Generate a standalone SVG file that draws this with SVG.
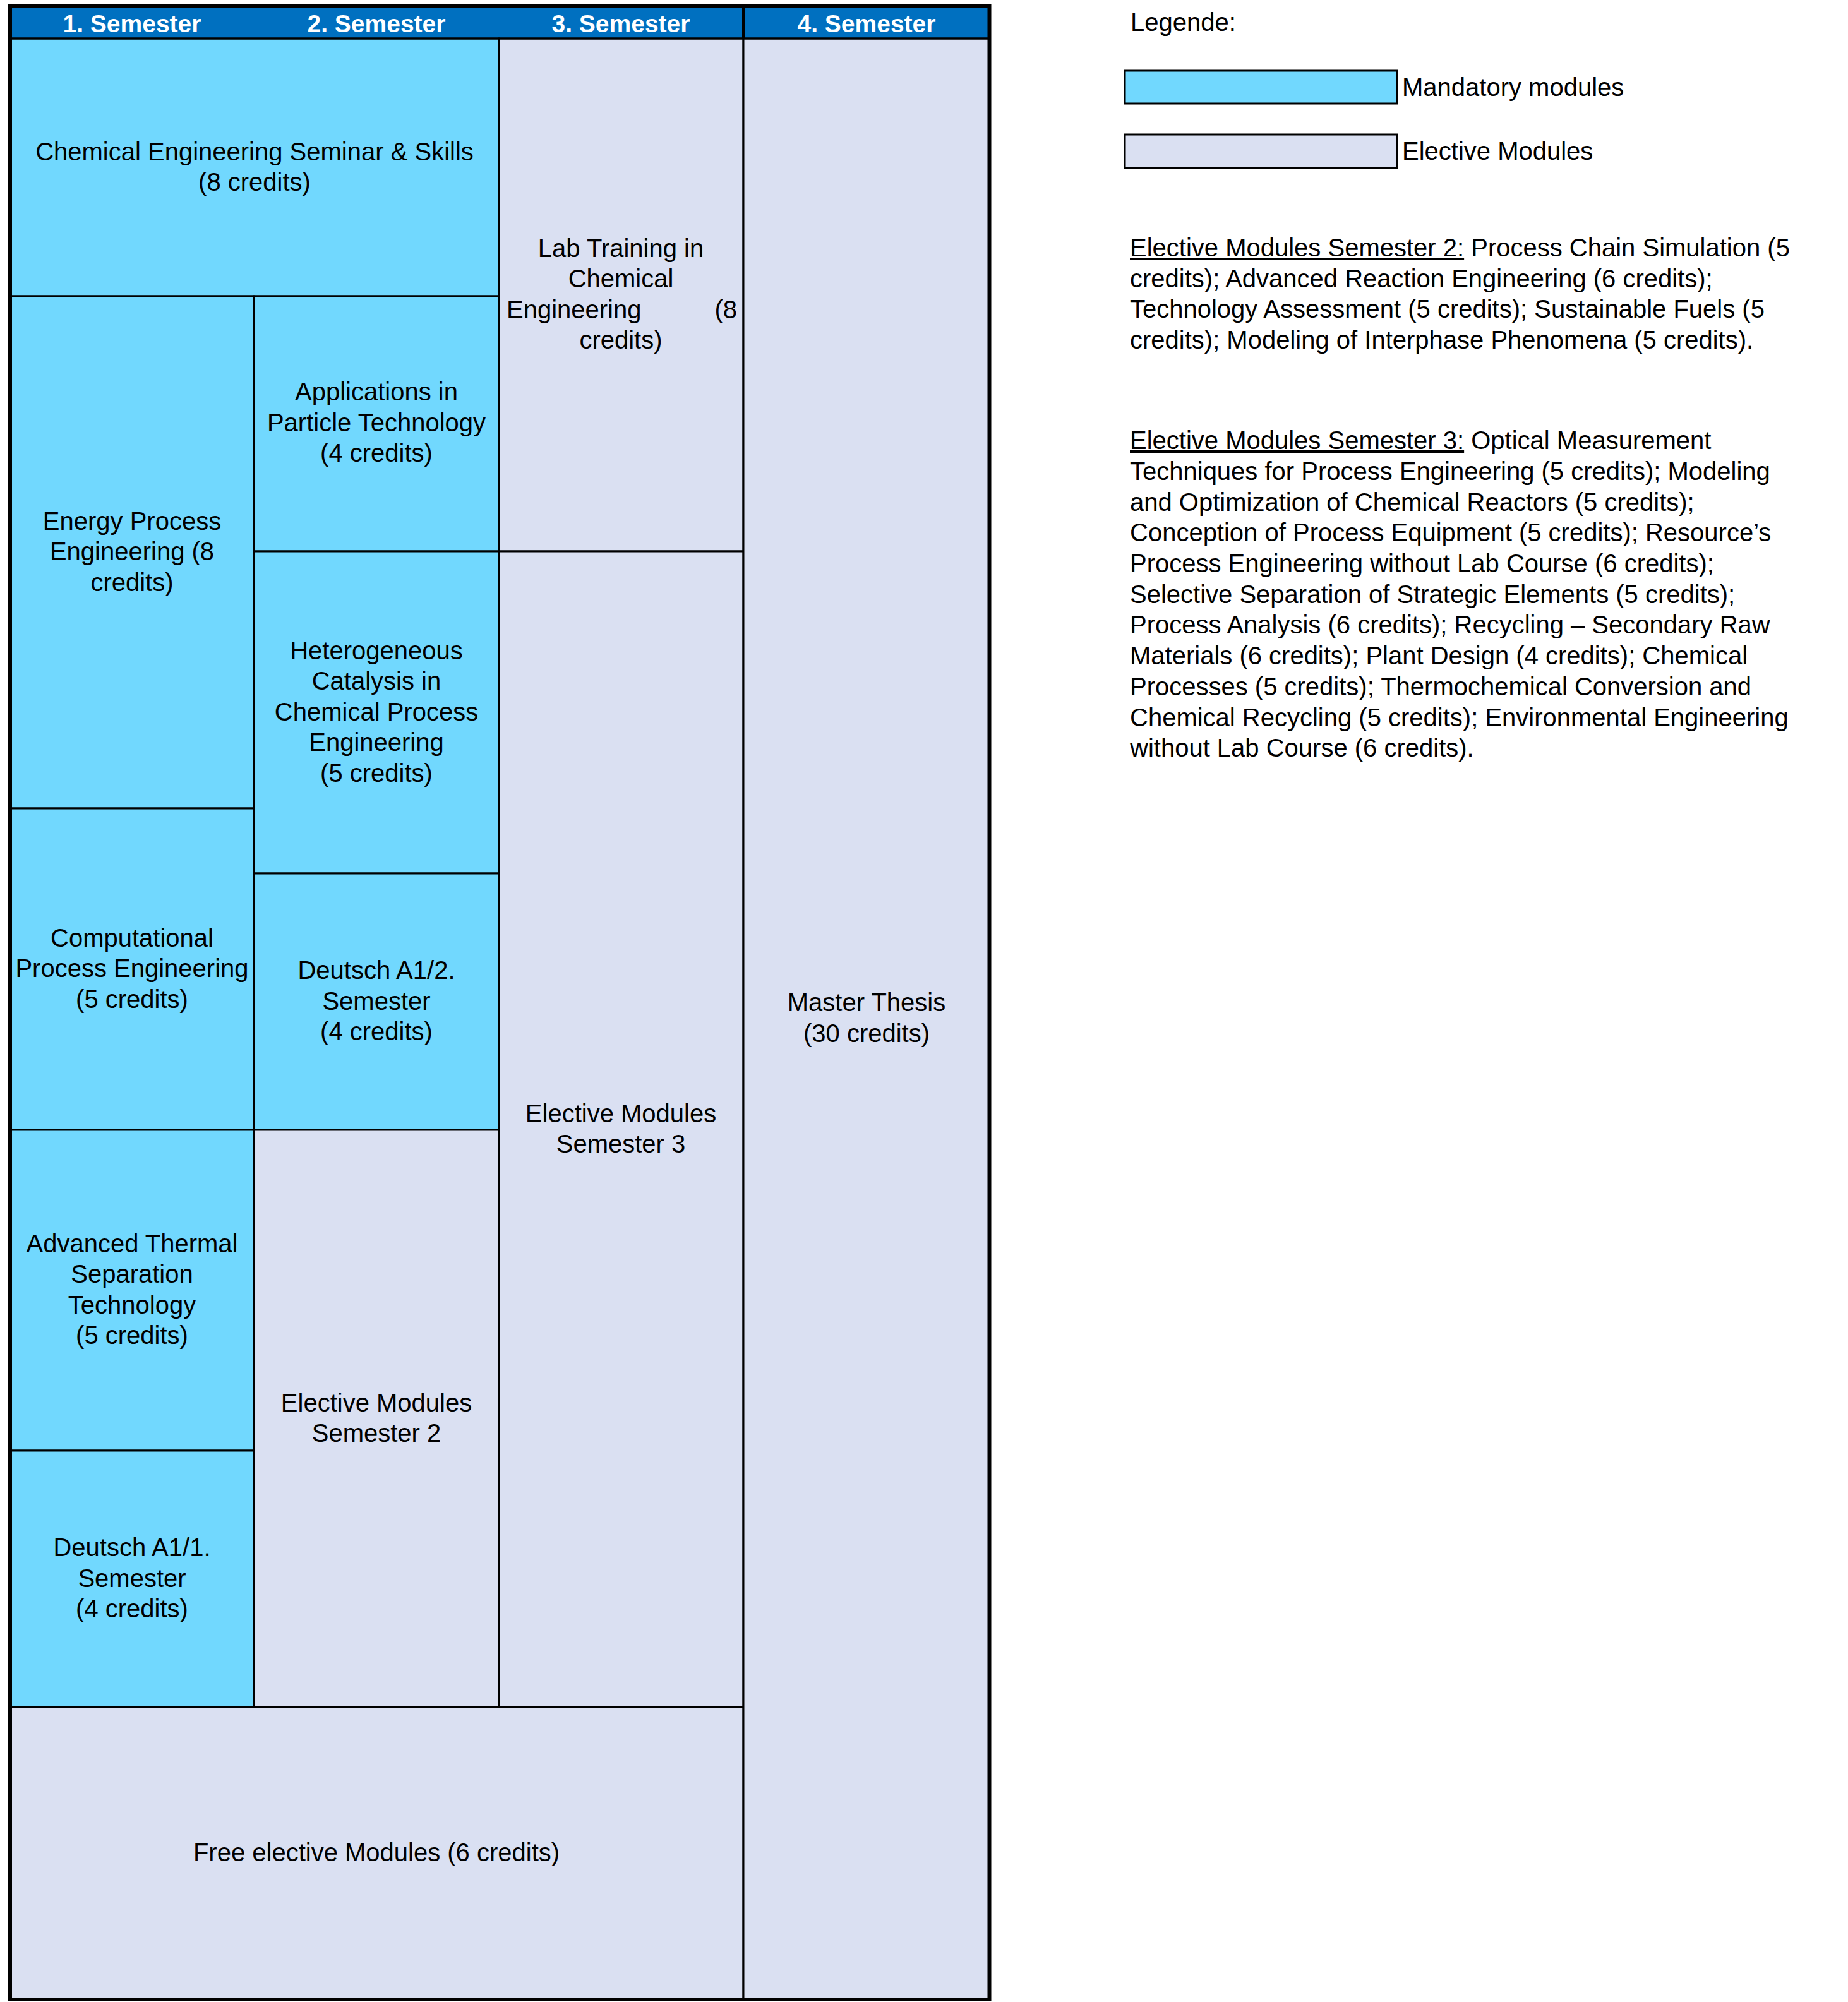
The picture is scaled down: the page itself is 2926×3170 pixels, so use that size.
<svg xmlns="http://www.w3.org/2000/svg" width="2926" height="3170" viewBox="0 0 2926 3170">
<style>
text{font-family:"Liberation Sans",Arial,sans-serif;font-size:40px;fill:#000}
.c{text-anchor:middle}
.h{font-weight:bold;font-size:39px;fill:#fff;text-anchor:middle}
.m{fill:#71D8FE;stroke:#000;stroke-width:3}
.e{fill:#DAE0F2;stroke:#000;stroke-width:3}
.u{text-decoration:underline}
</style>
<rect width="2926" height="3170" fill="#fff"/>
<g id="header">
<rect x="16" y="10" width="1551" height="51" fill="#0070C0"/>
<text class="h" x="209" y="51">1. Semester</text>
<text class="h" x="596" y="51">2. Semester</text>
<text class="h" x="983" y="51">3. Semester</text>
<text class="h" x="1372" y="51">4. Semester</text>
</g>
<g id="n-seminar"><rect class="m" x="16" y="61" width="774" height="408"/>
<text class="c" x="403" y="254">Chemical Engineering Seminar &amp; Skills</text>
<text class="c" x="403" y="302">(8 credits)</text></g>
<g id="n-energy"><rect class="m" x="16" y="469" width="386" height="811"/>
<text class="c" x="209" y="839">Energy Process</text>
<text class="c" x="209" y="887">Engineering (8</text>
<text class="c" x="209" y="936">credits)</text></g>
<g id="n-particle"><rect class="m" x="402" y="469" width="388" height="404"/>
<text class="c" x="596" y="634">Applications in</text>
<text class="c" x="596" y="683">Particle Technology</text>
<text class="c" x="596" y="731">(4 credits)</text></g>
<g id="n-catalysis"><rect class="m" x="402" y="873" width="388" height="510"/>
<text class="c" x="596" y="1044">Heterogeneous</text>
<text class="c" x="596" y="1092">Catalysis in</text>
<text class="c" x="596" y="1141">Chemical Process</text>
<text class="c" x="596" y="1189">Engineering</text>
<text class="c" x="596" y="1238">(5 credits)</text></g>
<g id="n-computational"><rect class="m" x="16" y="1280" width="386" height="509"/>
<text class="c" x="209" y="1499">Computational</text>
<text class="c" x="209" y="1547">Process Engineering</text>
<text class="c" x="209" y="1596">(5 credits)</text></g>
<g id="n-deutsch2"><rect class="m" x="402" y="1383" width="388" height="406"/>
<text class="c" x="596" y="1550">Deutsch A1/2.</text>
<text class="c" x="596" y="1599">Semester</text>
<text class="c" x="596" y="1647">(4 credits)</text></g>
<g id="n-thermal"><rect class="m" x="16" y="1789" width="386" height="508"/>
<text class="c" x="209" y="1983">Advanced Thermal</text>
<text class="c" x="209" y="2031">Separation</text>
<text class="c" x="209" y="2080">Technology</text>
<text class="c" x="209" y="2128">(5 credits)</text></g>
<g id="n-deutsch1"><rect class="m" x="16" y="2297" width="386" height="406"/>
<text class="c" x="209" y="2464">Deutsch A1/1.</text>
<text class="c" x="209" y="2513">Semester</text>
<text class="c" x="209" y="2561">(4 credits)</text></g>
<g id="n-elective2"><rect class="e" x="402" y="1789" width="388" height="914"/>
<text class="c" x="596" y="2235">Elective Modules</text>
<text class="c" x="596" y="2283">Semester 2</text></g>
<g id="n-lab"><rect class="e" x="790" y="61" width="387" height="812"/>
<text class="c" x="983" y="407">Lab Training in</text>
<text class="c" x="983" y="455">Chemical</text>
<text x="802" y="504">Engineering</text>
<text x="1167" y="504" text-anchor="end">(8</text>
<text class="c" x="983" y="552">credits)</text></g>
<g id="n-elective3"><rect class="e" x="790" y="873" width="387" height="1830"/>
<text class="c" x="983" y="1777">Elective Modules</text>
<text class="c" x="983" y="1825">Semester 3</text></g>
<g id="n-free"><rect class="e" x="16" y="2703" width="1161" height="463"/>
<text class="c" x="596" y="2947">Free elective Modules (6 credits)</text></g>
<g id="n-thesis"><rect class="e" x="1177" y="61" width="389" height="3105"/>
<text class="c" x="1372" y="1601">Master Thesis</text>
<text class="c" x="1372" y="1650">(30 credits)</text></g>
<g id="frame" fill="none" stroke="#000">
<line x1="1177" y1="10" x2="1177" y2="61" stroke-width="4"/>
<line x1="16" y1="61" x2="1566" y2="61" stroke-width="3"/>
<rect x="16" y="10" width="1550.5" height="3156" stroke-width="6"/>
</g>
<g id="legend">
<text x="1790" y="49">Legende:</text>
<rect class="m" x="1781" y="112" width="431" height="52"/>
<text x="2220" y="152">Mandatory modules</text>
<rect class="e" x="1781" y="213" width="431" height="53"/>
<text x="2220" y="253">Elective Modules</text>
</g>
<g id="notes">
<text x="1789" y="406"><tspan class="u">Elective Modules Semester 2:</tspan> Process Chain Simulation (5</text>
<text x="1789" y="455">credits); Advanced Reaction Engineering (6 credits);</text>
<text x="1789" y="503">Technology Assessment (5 credits); Sustainable Fuels (5</text>
<text x="1789" y="552">credits); Modeling of Interphase Phenomena (5 credits).</text>
<text x="1789" y="711"><tspan class="u">Elective Modules Semester 3:</tspan> Optical Measurement</text>
<text x="1789" y="760">Techniques for Process Engineering (5 credits); Modeling</text>
<text x="1789" y="809">and Optimization of Chemical Reactors (5 credits);</text>
<text x="1789" y="857">Conception of Process Equipment (5 credits); Resource’s</text>
<text x="1789" y="906">Process Engineering without Lab Course (6 credits);</text>
<text x="1789" y="955">Selective Separation of Strategic Elements (5 credits);</text>
<text x="1789" y="1003">Process Analysis (6 credits); Recycling – Secondary Raw</text>
<text x="1789" y="1052">Materials (6 credits); Plant Design (4 credits); Chemical</text>
<text x="1789" y="1101">Processes (5 credits); Thermochemical Conversion and</text>
<text x="1789" y="1150">Chemical Recycling (5 credits); Environmental Engineering</text>
<text x="1789" y="1198">without Lab Course (6 credits).</text>
</g>
</svg>
